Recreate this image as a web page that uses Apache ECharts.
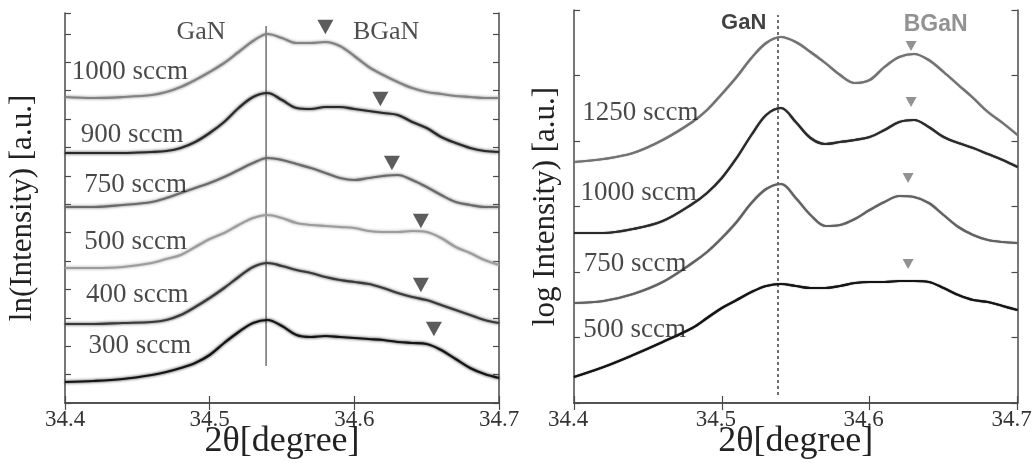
<!DOCTYPE html>
<html>
<head>
<meta charset="utf-8">
<title>BGaN XRD</title>
<script src="https://cdn.jsdelivr.net/npm/echarts@6/dist/echarts.min.js"></script>
<style>
  html, body { margin: 0; padding: 0; background: #fff; }
  #charts { width: 1036px; height: 463px; }
</style>
</head>
<body>
<div id="charts"></div>
<script>
// 2theta sample positions (degree)
const leftX = [34.40, 34.42, 34.44, 34.46, 34.47, 34.48, 34.49, 34.50, 34.51, 34.52, 34.53, 34.54, 34.55, 34.56,
               34.57, 34.58, 34.59, 34.60, 34.61, 34.62, 34.63, 34.64, 34.65, 34.66, 34.67, 34.68, 34.69, 34.70];
const rightX = [34.40, 34.42, 34.44, 34.46, 34.48, 34.49, 34.50, 34.51, 34.52, 34.53, 34.54, 34.55, 34.56, 34.57,
                34.58, 34.59, 34.60, 34.61, 34.62, 34.63, 34.64, 34.65, 34.66, 34.67, 34.68, 34.69, 34.70];

// left panel: ln(Intensity), stacked with offset (arb. units)
const left1000 = [306, 305, 306, 308, 311, 316, 323, 331, 340, 351, 362, 369, 365, 360, 360, 361, 357, 347, 336, 328, 321, 315, 311, 309, 307, 306, 305, 305];
const left900  = [250, 250, 250, 251, 252, 255, 261, 270, 281, 295, 306, 310, 303, 295, 294, 296, 296, 294, 292, 290, 288, 281, 275, 266, 260, 255, 252, 251];
const left750  = [196, 196, 198, 201, 205, 210, 215, 220, 226, 233, 240, 245, 243, 239, 235, 230, 225, 223, 225, 227, 228, 223, 216, 208, 201, 198, 196, 196];
const left500  = [135, 135, 136, 140, 144, 148, 156, 164, 170, 178, 185, 188, 185, 180, 178, 177, 176, 175, 172, 171, 171, 172, 171, 165, 156, 150, 143, 138];
const left400  = [79, 79, 80, 81, 83, 88, 96, 105, 115, 126, 136, 140, 137, 133, 130, 126, 123, 121, 119, 115, 110, 106, 103, 98, 93, 88, 83, 80];
const left300  = [21, 22, 24, 28, 31, 35, 40, 48, 60, 71, 80, 83, 77, 68, 66, 67, 66, 65, 64, 63, 61, 60, 59, 53, 44, 35, 29, 25];

// right panel: log Intensity
const right1250 = [241, 244, 250, 263, 281, 293, 309, 326, 345, 360, 366, 361, 351, 340, 328, 320, 323, 336, 346, 349, 343, 331, 318, 305, 291, 280, 268];
const right1000 = [170, 170, 174, 182, 199, 210, 225, 245, 268, 288, 295, 281, 265, 259, 261, 263, 266, 273, 281, 283, 276, 266, 260, 255, 249, 243, 236];
const right750  = [100, 102, 109, 121, 140, 151, 165, 181, 200, 214, 219, 205, 188, 177, 178, 184, 193, 201, 207, 206, 200, 188, 176, 168, 163, 161, 160];
const right500  = [26, 36, 48, 61, 75, 85, 95, 103, 111, 117, 119, 117, 115, 115, 117, 120, 121, 121, 122, 122, 121, 115, 108, 103, 101, 97, 93];

// sample labels
const leftNames = ['1000 sccm', '900 sccm', '750 sccm', '500 sccm', '400 sccm', '300 sccm'];
const leftLabelX = [34.4044, 34.4106, 34.4129, 34.4129, 34.4141, 34.4159];
const leftLabelY = [331, 268, 218, 161, 108, 57];
const rightNames = ['1250 sccm', '1000 sccm', '750 sccm', '500 sccm'];
const rightLabelX = [34.4052, 34.4041, 34.4063, 34.4059];
const rightLabelY = [290, 210, 139, 73];

// BGaN peak markers
const leftMarkX = [34.580, 34.618, 34.626, 34.646, 34.646, 34.655];
const leftMarkY = [376, 304, 240, 182, 118, 74];
const rightMarkX = [34.628, 34.628, 34.626, 34.626];
const rightMarkY = [357, 301, 225, 139];

// GaN reference line and peak titles
const leftGaN = [34.539, 37, 377];
const rightGaN = [34.538, 8, 388];
const leftTitles = [['GaN', 34.494, 371], ['BGaN', 34.622, 371]];
const rightTitles = [['GaN', 34.5148, 380], ['BGaN', 34.6446, 378]];

function pairs(xs, ys) {
    return xs.map(function (x, i) { return [x, ys[i]]; });
}

const serif = 'Liberation Serif';
const frame = '#4a4a4a';

function xAxes(grid, name, shift) {
    return [{
        type: 'value', gridIndex: grid, min: 34.4, max: 34.7, interval: 0.1,
        name: name, nameLocation: 'middle', nameGap: 21, nameMoveOverlap: false,
        nameTextStyle: { fontFamily: serif, fontSize: 36, color: '#222' },
        axisLine: { lineStyle: { color: frame, width: 1.5 } },
        axisTick: { inside: true, length: 7, lineStyle: { color: frame, width: 1.2 } },
        axisLabel: {
            margin: 5, fontFamily: serif, fontSize: 23, color: '#333',
            padding: [0, shift, 0, 0],
            formatter: function (v) { return v.toFixed(1); }
        },
        splitLine: { show: false }
    }, {
        type: 'value', gridIndex: grid, position: 'top', min: 34.4, max: 34.7, interval: 0.1,
        axisLine: { lineStyle: { color: frame, width: 1.5 } },
        axisTick: { inside: true, length: 7, lineStyle: { color: frame, width: 1.2 } },
        axisLabel: { show: false },
        splitLine: { show: false }
    }];
}

function yAxes(grid, max, step, name, gap) {
    return [{
        type: 'value', gridIndex: grid, min: 0, max: max, interval: step,
        name: name, nameLocation: 'middle', nameGap: gap, nameMoveOverlap: false,
        nameTextStyle: { fontFamily: serif, fontSize: 31, color: '#222' },
        axisLine: { show: true, lineStyle: { color: frame, width: 1.5 } },
        axisTick: { inside: true, length: 6, lineStyle: { color: frame, width: 1.2 } },
        axisLabel: { show: false },
        splitLine: { show: false }
    }, {
        type: 'value', gridIndex: grid, position: 'right', min: 0, max: max, interval: step,
        axisLine: { show: true, lineStyle: { color: frame, width: 1.5 } },
        axisTick: { inside: true, length: 6, lineStyle: { color: frame, width: 1.2 } },
        axisLabel: { show: false },
        splitLine: { show: false }
    }];
}

function curve(axis, xs, ys, color, fuzz) {
    return {
        type: 'line', xAxisIndex: axis, yAxisIndex: axis, data: pairs(xs, ys),
        smooth: 0.35, showSymbol: false, silent: true,
        lineStyle: { color: color, width: 2.2, shadowColor: color, shadowBlur: fuzz ? 3 : 1 }
    };
}

function marks(axis, xs, ys, color, size) {
    return {
        type: 'scatter', xAxisIndex: axis, yAxisIndex: axis, data: pairs(xs, ys),
        symbol: 'triangle', symbolRotate: 180, symbolSize: [size, size * 0.9],
        itemStyle: { color: color }, silent: true, z: 5
    };
}

function texts(axis, names, xs, ys, font, pos) {
    return {
        type: 'scatter', xAxisIndex: axis, yAxisIndex: axis, symbolSize: 1,
        itemStyle: { color: 'rgba(0,0,0,0)' }, silent: true, z: 6,
        data: names.map(function (n, i) {
            return { name: n, value: [xs[i], ys[i]], label: font[i] || font[0] };
        }),
        label: { show: true, position: pos, distance: 0, formatter: '{b}' }
    };
}

function refLine(axis, ref, color, type, width) {
    return {
        type: 'line', xAxisIndex: axis, yAxisIndex: axis,
        data: [[ref[0], ref[1]], [ref[0], ref[2]]],
        showSymbol: false, silent: true, z: 1,
        lineStyle: { color: color, type: type, width: width }
    };
}

const sccmFont = [{ fontFamily: serif, fontSize: 27, color: '#1a1a1a' }];

const chart = echarts.init(document.getElementById('charts'));
chart.setOption({
    animation: false,
    backgroundColor: '#fff',
    grid: [
        { left: 65, top: 13, width: 434, height: 390, outerBoundsMode: 'none', containLabel: false },
        { left: 574, top: 10, width: 443.5, height: 393, outerBoundsMode: 'none', containLabel: false }
    ],
    // axis order: 0 bottom-left, 1 top-left, 2 bottom-right, 3 top-right
    xAxis: [].concat(xAxes(0, '2θ[degree]', 0), xAxes(1, '2θ[degree]', 12)),
    yAxis: [].concat(yAxes(0, 390, 28.4, 'ln(Intensity) [a.u.]', 27), yAxes(1, 393, 65.5, 'log Intensity) [a.u.]', 13)),
    series: [
        refLine(0, leftGaN, '#777', 'solid', 1.6),
        curve(0, leftX, left1000, '#828282', true),
        curve(0, leftX, left900, '#2a2a2a', true),
        curve(0, leftX, left750, '#6a6a6a', true),
        curve(0, leftX, left500, '#9c9c9c', true),
        curve(0, leftX, left400, '#3a3a3a', true),
        curve(0, leftX, left300, '#141414', true),
        marks(0, leftMarkX, leftMarkY, '#333', 16),
        texts(0, leftNames, leftLabelX, leftLabelY, sccmFont, 'right'),
        texts(0, leftTitles.map(function (t) { return t[0]; }), leftTitles.map(function (t) { return t[1]; }),
              leftTitles.map(function (t) { return t[2]; }),
              [{ fontFamily: serif, fontSize: 26, color: '#222' }], 'inside'),

        refLine(2, rightGaN, '#222', [3, 3], 1.3),
        curve(2, rightX, right1250, '#727272', false),
        curve(2, rightX, right1000, '#2a2a2a', false),
        curve(2, rightX, right750, '#626262', false),
        curve(2, rightX, right500, '#141414', false),
        marks(2, rightMarkX, rightMarkY, '#777', 11),
        texts(2, rightNames, rightLabelX, rightLabelY, sccmFont, 'right'),
        texts(2, rightTitles.map(function (t) { return t[0]; }), rightTitles.map(function (t) { return t[1]; }),
              rightTitles.map(function (t) { return t[2]; }),
              [{ fontFamily: 'Liberation Sans', fontWeight: 'bold', fontSize: 22, color: '#111' },
               { fontFamily: 'Liberation Sans', fontWeight: 'bold', fontSize: 23, color: '#777' }], 'inside')
    ]
});
</script>
</body>
</html>
